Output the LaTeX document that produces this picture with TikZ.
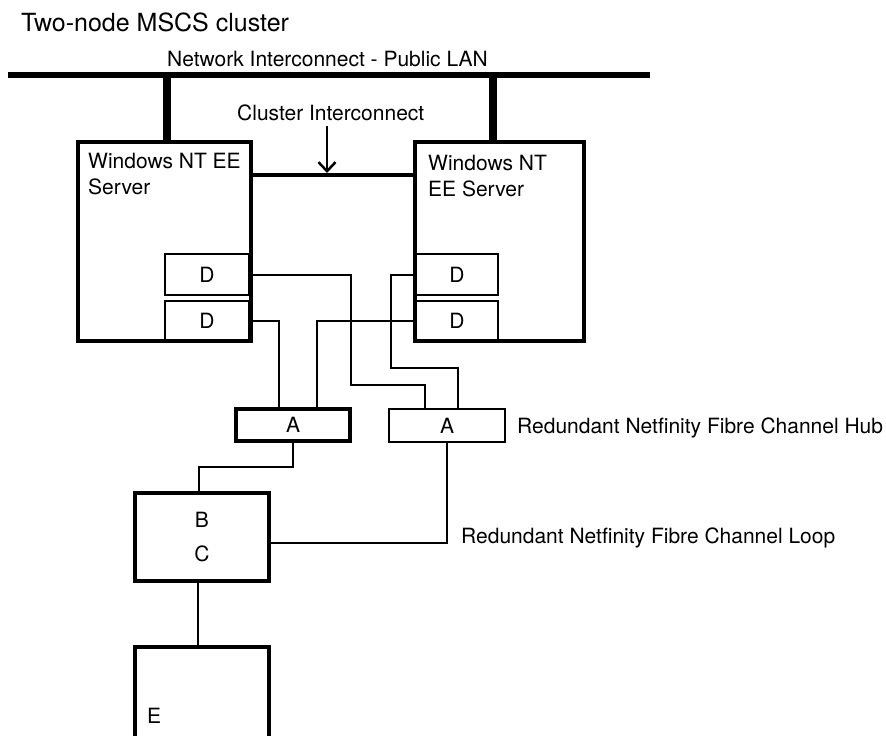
\documentclass[tikz,border=0pt]{standalone}
\usepackage{fontspec}
\setmainfont{TeX Gyre Heros}
\usetikzlibrary{arrows.meta,positioning,calc}
\newcommand{\lblfont}{\fontsize{21}{26}\selectfont}

\begin{document}
\begin{tikzpicture}[x=1pt, y=-1pt,
        lbl/.style={inner sep=0pt, font=\lblfont},
        srv/.style={rectangle, draw, line width=4pt, inner sep=0pt},
        dbox/.style={rectangle, draw, line width=2pt, inner sep=0pt, minimum width=83, minimum height=41, font=\lblfont},
        hub/.style={rectangle, draw, inner sep=0pt, minimum height=32, font=\lblfont},
        wire/.style={line width=2pt},
        lan/.style={line width=6.5pt},
        drop/.style={line width=7.5pt},
        ci/.style={line width=4pt},
        arrow/.style={-{Straight Barb[length=9pt, width=17pt]}, line width=2.5pt}
    ]
        \useasboundingbox (0,0) rectangle (886,736);

        \node[anchor=base west, inner sep=0pt, font=\fontsize{25}{30}\selectfont] (title) at (21,31) {Two-node MSCS cluster};
        \node[lbl, anchor=base west] (lantext) at (167,66) {Network Interconnect - Public LAN};
        \node[lbl, anchor=base west] (citext) at (237,120) {Cluster Interconnect};

        % disk adapters
        \node[dbox, minimum width=84] (dla) at (207,274.5) {D};
        \node[dbox, minimum width=84, minimum height=40] (dlb) at (207,321) {D};
        \node[dbox, minimum width=82] (dra) at (457,274.5) {D};
        \node[dbox, minimum width=82, minimum height=40] (drb) at (457,321) {D};

        % servers
        \node[srv, minimum width=173, minimum height=199] (srvl) at (164.5,241.5) {};
        \node[srv, minimum width=169, minimum height=199] (srvr) at (499.5,241.5) {};
        \node[lbl, anchor=north west, align=left] (srvltext) at (88,153) {Windows NT EE\\Server};
        \node[lbl, anchor=north west, align=left] (srvrtext) at (428,155) {Windows NT\\EE Server};

        % hubs and storage
        \node[hub, line width=4pt, minimum width=114] (hubl) at (293,425) {A};
        \node[hub, line width=2pt, minimum width=116, minimum height=33] (hubr) at (447,425.5) {A};
        \node[srv, minimum width=134, minimum height=88, align=center, font=\lblfont] (bc) at (202,537) {B\\[8pt]C};
        \node[srv, minimum width=134, minimum height=98] (ebox) at (202,696) {};
        \node[lbl, anchor=base west] (etext) at (147,723) {E};

        \node[lbl, anchor=base west] (hubtext) at (517,433) {Redundant Netfinity Fibre Channel Hub};
        \node[lbl, anchor=base west] (looptext) at (461,543) {Redundant Netfinity Fibre Channel Loop};

        % public LAN
        \coordinate (lanl) at (8,75);
        \coordinate (lanr) at (650,75);
        \coordinate (tapl) at (167,75);
        \coordinate (tapr) at (493,75);
        \draw[lan] (lanl) -- (lanr);
        \draw[drop] (tapl) -- (tapl |- srvl.north);
        \draw[drop] (tapr) -- (tapr |- srvr.north);

        % cluster interconnect
        \draw[ci] ([yshift=-35]srvl.north east) -- ([yshift=-35]srvr.north west);
        \coordinate (citop) at (327,126);
        \coordinate (cihit) at (327,173);
        \draw[arrow] (citop) -- (cihit);

        % fibre channel
        \draw[wire] (dla.east) -- ++(101,0) -- ++(0,110) -| ([xshift=-22]hubr.north);
        \draw[wire] (dlb.east) -| ([xshift=-14]hubl.north);
        \draw[wire] (drb.west) -| ([xshift=24]hubl.north);
        \draw[wire] (dra.west) -- ++(-24,0) -- ++(0,93) -| ([xshift=11]hubr.north);
        \draw[wire] (hubl.south) -- ++(0,24) -| ([xshift=-3]bc.north);
        \draw[wire] (hubr.south) |- ([yshift=-6]bc.east);
        \draw[wire] ([xshift=-4]bc.south) -- ([xshift=-4]ebox.north);
    \end{tikzpicture}
\end{document}
